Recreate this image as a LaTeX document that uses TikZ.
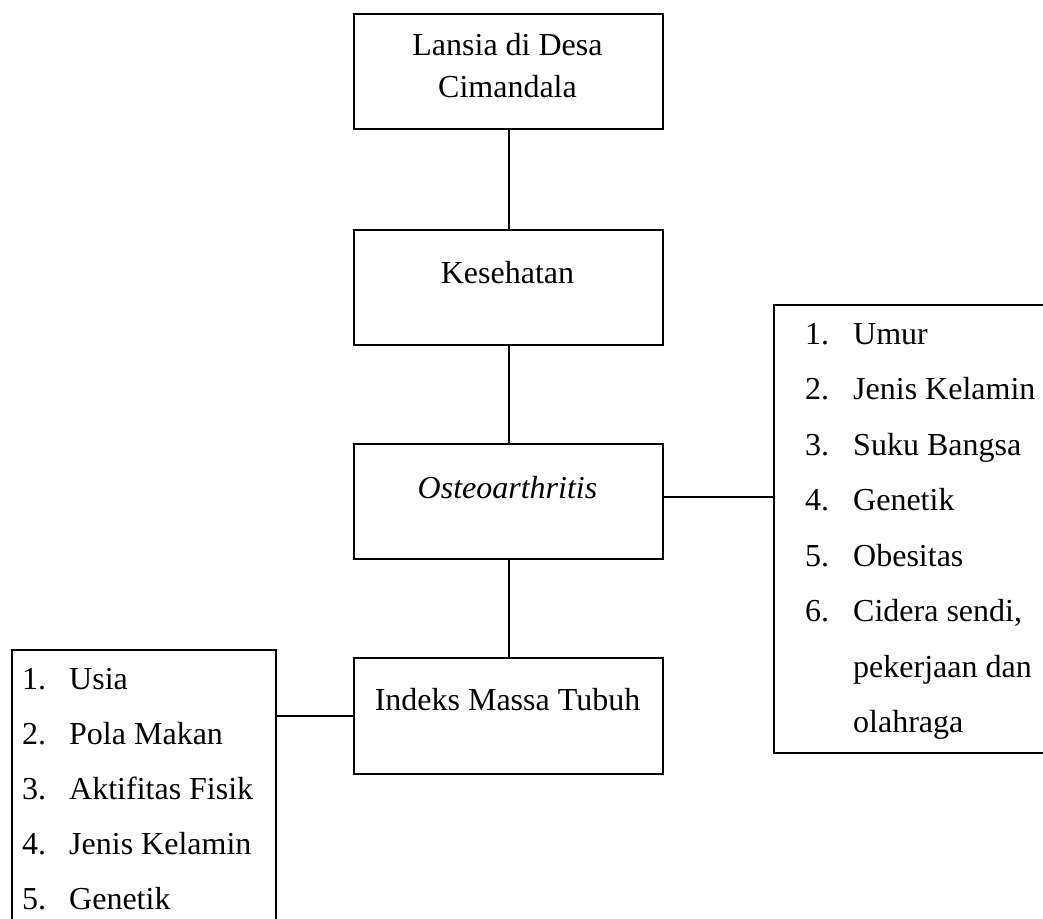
\documentclass[tikz,border=0pt]{standalone}
\usepackage{fontspec}
\setmainfont{Liberation Serif}
\begin{document}
\begin{tikzpicture}[x=1pt,y=-1pt,
  box/.style={draw, line width=1.6pt, inner sep=0pt, anchor=north west},
  txt/.style={font=\fontsize{32}{38}\selectfont, anchor=base, inner sep=0pt},
  item/.style={font=\fontsize{32}{38}\selectfont, anchor=base west, inner sep=0pt},
  conn/.style={line width=1.6pt}]
\clip (0,0) rectangle (1043,918);
\fill[white] (0,0) rectangle (1043,918);
% main boxes
\node[box, minimum width=309pt, minimum height=115pt] (lansia) at (353,13) {};
\node[box, minimum width=309pt, minimum height=115pt] (kes) at (353,229) {};
\node[box, minimum width=309pt, minimum height=115pt] (osteo) at (353,443) {};
\node[box, minimum width=309pt, minimum height=116pt] (imt) at (353,657) {};
\node[box, minimum width=300pt, minimum height=448pt] (right) at (773,304) {};
\node[box, minimum width=264pt, minimum height=290pt] (left) at (11,649) {};
% box texts
\node[txt] (t1a) at (507.5,55) {Lansia di Desa};
\node[txt] (t1b) at (507.5,97) {Cimandala};
\node[txt] (t2) at (507.5,283) {Kesehatan};
\node[txt] (t3) at (507.5,498) {\itshape Osteoarthritis};
\node[txt] (t4) at (507.5,710) {Indeks Massa Tubuh};
% right list
\node[item] (rn1) at (805,344) {1.};
\node[item] (ri1) at (853,344) {Umur};
\node[item] (rn2) at (805,399.5) {2.};
\node[item] (ri2) at (853,399.5) {Jenis Kelamin};
\node[item] (rn3) at (805,455) {3.};
\node[item] (ri3) at (853,455) {Suku Bangsa};
\node[item] (rn4) at (805,510.5) {4.};
\node[item] (ri4) at (853,510.5) {Genetik};
\node[item] (rn5) at (805,566) {5.};
\node[item] (ri5) at (853,566) {Obesitas};
\node[item] (rn6) at (805,621.5) {6.};
\node[item] (ri6) at (853,621.5) {Cidera sendi,};
\node[item] (ri6b) at (853,677) {pekerjaan dan};
\node[item] (ri6c) at (853,732.5) {olahraga};
% left list
\node[item] (ln1) at (22,689) {1.};
\node[item] (li1) at (69,689) {Usia};
\node[item] (ln2) at (22,744) {2.};
\node[item] (li2) at (69,744) {Pola Makan};
\node[item] (ln3) at (22,799) {3.};
\node[item] (li3) at (69,799) {Aktifitas Fisik};
\node[item] (ln4) at (22,854) {4.};
\node[item] (li4) at (69,854) {Jenis Kelamin};
\node[item] (ln5) at (22,909) {5.};
\node[item] (li5) at (69,909) {Genetik};
% connectors
\coordinate (vx) at (509,0);
\draw[conn] (lansia.south -| vx) -- (kes.north -| vx);
\draw[conn] (kes.south -| vx) -- (osteo.north -| vx);
\draw[conn] (osteo.south -| vx) -- (imt.north -| vx);
\coordinate (oc) at ([yshift=4.5pt]osteo.east);
\draw[conn] (oc) -- (oc -| right.west);
\draw[conn] (imt.west) -- (imt.west -| left.east);
\end{tikzpicture}
\end{document}
